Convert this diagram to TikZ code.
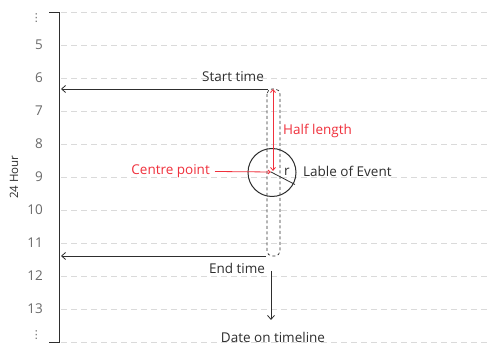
\documentclass[tikz,border=0pt]{standalone}
\usepackage{fontspec}
\setmainfont{Open Sans}
\newfontfamily\symfont{DejaVu Sans}
\usetikzlibrary{arrows.meta}
\definecolor{ink}{HTML}{2E2E2E}
\definecolor{numgray}{HTML}{6A6A6A}
\definecolor{gridgray}{HTML}{DADADA}
\definecolor{accent}{HTML}{F0303C}
\tikzset{
  gridline/.style={gridgray, line width=0.8pt, dash pattern=on 6pt off 4pt},
  hourlabel/.style={anchor=east, text=numgray, font=\fontsize{13.5}{15}\selectfont, inner sep=0pt},
  dotslabel/.style={anchor=east, text=numgray, font=\symfont\fontsize{11}{12}\selectfont, inner sep=0pt},
  txt/.style={text=ink, font=\fontsize{13.5}{15}\selectfont, inner sep=1pt},
  redtxt/.style={text=accent, font=\fontsize{13.5}{15}\selectfont, inner sep=1pt},
  barb/.style={-{Straight Barb[length=4pt,width=7pt]}},
}
\begin{document}
\begin{tikzpicture}[x=1pt,y=-1pt]
\useasboundingbox (0,0) rectangle (491,347);
\fill[white] (0,0) rectangle (491,347);

% hour grid
\foreach \yy in {12,45,78,111,144,177,210,243,276,309,342}
  \draw[gridline] (61,\yy) -- (491,\yy);

% hour labels
\node[dotslabel] (hdots1) at (42,18) {⋮};
\foreach \h/\yy in {5/45,6/78,7/111,8/144,9/177,10/210,11/243,12/276,13/309}
  \node[hourlabel] (h\h) at (43,\yy) {\h};
\node[dotslabel] (hdots2) at (42,335) {⋮};
\node[txt, rotate=90, font=\fontsize{11.5}{13}\selectfont] (axisname) at (14,177) {24 Hour};

% vertical axis with end ticks
\coordinate (axtop) at (59,12);
\coordinate (axbot) at (59,342);
\draw[ink, line width=0.9pt] (49,12) -- (axtop) -- (axbot) -- (49,342);

% event bar
\draw[ink, line width=0.7pt, dash pattern=on 3pt off 2.5pt, rounded corners=5pt] (267,89) rectangle (280,256);

% start / end time markers
\coordinate (st) at (268,89);
\coordinate (stend) at (61,89);
\coordinate (et) at (266,256);
\coordinate (etend) at (61,256);
\draw[ink, line width=0.8pt, barb] (st) -- (stend);
\draw[ink, line width=0.8pt, barb] (et) -- (etend);
\node[txt] (starttxt) at (233,77) {Start time};
\node[txt] (endtxt) at (237,268) {End time};

% event circle
\coordinate (ctr) at (271,172);
\node[draw=ink, line width=1pt, circle, minimum size=48pt, inner sep=0pt] (evt) at (272,172.5) {};
\coordinate (rim) at (295,184.5);
\draw[ink, line width=0.8pt] (ctr) -- (rim);
\node[txt] (rlab) at (287,172) {r};
\node[txt, anchor=west] (evlab) at (302,171) {Lable of Event};

% half length
\coordinate (hltop) at (273,89);
\coordinate (hlbot) at (273,171);
\draw[accent, line width=0.8pt, {Straight Barb[length=3pt,width=5pt]}-{Straight Barb[length=3pt,width=5pt]}] (hltop) -- (hlbot);
\node[redtxt, anchor=west] (hltxt) at (282,131) {Half length};

% centre point
\node[redtxt, anchor=east] (cptxt) at (211,171) {Centre point};
\draw[accent, line width=0.8pt, -{Straight Barb[length=2.5pt,width=4pt]}] (cptxt.east) ++(4,0.5) -- (ctr);

% date on timeline
\coordinate (dtop) at (271,271);
\coordinate (dbot) at (271,320);
\draw[ink, line width=0.8pt, barb] (dtop) -- (dbot);
\node[txt] (datetxt) at (273,337) {Date on timeline};
\end{tikzpicture}
\end{document}
